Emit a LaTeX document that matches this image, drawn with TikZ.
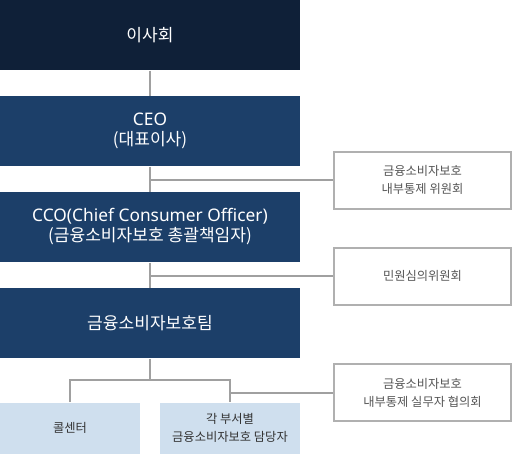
\documentclass[tikz,border=0pt]{standalone}
\usepackage{fontspec}
\setmainfont{Noto Sans CJK KR}
\newfontfamily\latinfont{Noto Sans}
\definecolor{boardnavy}{RGB}{15,32,56}
\definecolor{execblue}{RGB}{28,63,105}
\definecolor{staffblue}{RGB}{207,223,238}
\definecolor{linegray}{RGB}{160,160,160}
\definecolor{sidegray}{RGB}{176,176,176}
\definecolor{textgray}{RGB}{85,85,85}

\tikzset{every picture/.style={line width=0.75pt}}

\begin{document}
\begin{tikzpicture}[x=0.75pt,y=0.75pt,yscale=-1,xscale=1,
  mainbox/.style={fill=execblue, text=white, minimum width=225pt, minimum height=52.5pt, inner sep=0pt, align=center, font=\fontsize{12.8}{15}\selectfont},
  sidebox/.style={draw=sidegray, line width=1.5pt, fill=white, text=textgray, minimum width=132.75pt, minimum height=42.75pt, inner sep=0pt, align=center, font=\fontsize{9.2}{13.5}\selectfont},
  staffbox/.style={fill=staffblue, text=black!80, minimum width=105pt, minimum height=38.25pt, inner sep=0pt, align=center, font=\fontsize{9.2}{13.5}\selectfont},
  link/.style={draw=linegray, line width=1.5pt}]
%set diagram left start at 0, and has height of 454
\useasboundingbox (0,0) rectangle (513,454);

% Main chain
\node [mainbox, fill=boardnavy] (board) at (150,35) {이사회};
\node [mainbox] (ceo) at (150,131) {{\latinfont\fontsize{13}{15}\selectfont CEO}\\(대표이사)};
\node [mainbox] (cco) at (150,227) {{\latinfont\fontsize{13}{15}\selectfont CCO(Chief Consumer Officer)}\\(금융소비자보호 총괄책임자)};
\node [mainbox] (team) at (150,323) {금융소비자보호팀};

% Side committees
\node [sidebox] (ctrlcom) at (422.5,180) {금융소비자보호\\내부통제 위원회};
\node [sidebox] (complaint) at (422.5,276) {민원심의위원회};
\node [sidebox] (workcom) at (422.5,392.5) {금융소비자보호\\내부통제 실무자 협의회};

% Staff boxes
\node [staffbox] (callctr) at (70,428) {콜센터};
\node [staffbox] (deptrep) at (230,428) {각 부서별\\금융소비자보호 담당자};

% Connectors
\coordinate (split) at (150,380);
\coordinate (ctrljoin) at (ceo.south |- ctrlcom.west);
\coordinate (compjoin) at (cco.south |- complaint.west);
\coordinate (workjoin) at (deptrep.north |- workcom.west);

\draw [link] (board) -- (ceo);
\draw [link] (ceo) -- (cco);
\draw [link] (cco) -- (team);
\draw [link] (ctrljoin) -- (ctrlcom.west);
\draw [link] (compjoin) -- (complaint.west);
\draw [link] (team) -- (split);
\draw [link] (callctr.north) |- (split) -| (deptrep.north);
\draw [link] (workjoin) -- (workcom.west);
\end{tikzpicture}
\end{document}
